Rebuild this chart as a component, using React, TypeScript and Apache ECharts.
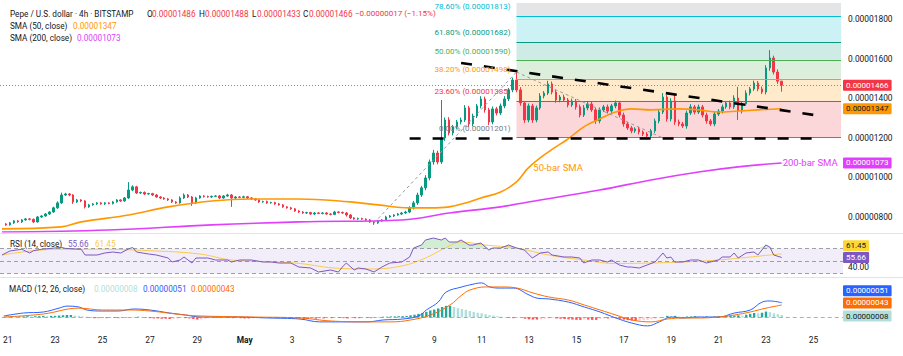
import React, { useEffect, useRef } from "react";
import * as echarts from "echarts";

// ---------------- data (prices in units of 1e-8 USD) ----------------
const SLOT_COUNT = 213; // 4h slots on the time axis
const LEAD = 1; // empty slot before the first candle
const START_UTC = Date.UTC(2025, 3, 20, 20);
const STEP_MS = 4 * 3600 * 1000;

const tickLabels = ["21", "23", "25", "27", "29", "May", "3", "5", "7", "9", "11", "13", "15", "17", "19", "21", "23", "25"];
const TICK_FIRST = 1;
const TICK_STEP = 12;

const priceTicks = [800, 1000, 1200, 1400, 1600, 1800];
const rsiTicks = [40];

const firstOpen = 765;
const lastOpen = 1486;
const closes = [
  760, 770, 780, 775, 785, 790, 788, 775, 800, 805,
  815, 825, 846, 871, 911, 916, 911, 876, 886, 881,
  851, 861, 866, 871, 866, 871, 868, 876, 886, 881,
  896, 936, 952, 921, 924, 916, 918, 911, 901, 896,
  891, 886, 876, 871, 896, 911, 901, 871, 896, 906,
  903, 901, 904, 906, 896, 906, 911, 896, 901, 899,
  902, 896, 891, 886, 876, 878, 871, 873, 866, 861,
  851, 846, 841, 830, 825, 820, 822, 815, 820, 818,
  820, 815, 813, 825, 823, 820, 810, 795, 790, 792,
  789, 785, 775, 770, 780, 785, 800, 805, 810, 815,
  820, 825, 846, 871, 911, 947, 997, 1078, 1123, 1078,
  1199, 1290, 1224, 1255, 1280, 1290, 1351, 1270, 1310, 1361,
  1396, 1341, 1280, 1346, 1325, 1361, 1396, 1442, 1492, 1442,
  1376, 1290, 1361, 1290, 1351, 1411, 1426, 1472, 1431, 1391,
  1406, 1391, 1366, 1386, 1356, 1315, 1351, 1371, 1341, 1285,
  1341, 1356, 1335, 1361, 1376, 1315, 1270, 1250, 1235, 1245,
  1229, 1219, 1209, 1235, 1285, 1330, 1406, 1295, 1386, 1280,
  1270, 1260, 1325, 1356, 1330, 1356, 1315, 1285, 1270, 1320,
  1335, 1356, 1376, 1356, 1401, 1335, 1371, 1426, 1447, 1477,
  1447, 1431, 1553, 1603, 1532, 1486, 1466,
];
const upperWick = [
  4, 5, 4, 5, 4, 5, 4, 4, 5, 4,
  5, 4, 6, 8, 12, 6, 5, 4, 5, 4,
  4, 5, 4, 4, 5, 4, 4, 5, 4, 4,
  5, 40, 8, 5, 4, 5, 4, 4, 5, 4,
  4, 5, 4, 4, 8, 8, 5, 5, 6, 4,
  4, 5, 4, 4, 5, 4, 6, 5, 4, 4,
  5, 4, 4, 5, 4, 4, 5, 4, 4, 5,
  4, 4, 5, 4, 4, 5, 4, 4, 5, 4,
  4, 5, 4, 6, 4, 4, 5, 4, 4, 5,
  4, 4, 5, 4, 5, 4, 6, 5, 4, 5,
  5, 6, 8, 10, 12, 10, 14, 12, 16, 12,
  192, 12, 14, 10, 10, 12, 14, 10, 12, 10,
  14, 12, 10, 12, 10, 12, 14, 10, 12, 45,
  14, 10, 12, 10, 12, 14, 10, 16, 12, 10,
  10, 12, 10, 12, 10, 12, 14, 10, 12, 10,
  12, 10, 12, 10, 12, 10, 12, 10, 10, 8,
  10, 8, 10, 10, 12, 14, 20, 10, 14, 30,
  12, 10, 12, 14, 10, 12, 10, 12, 10, 12,
  10, 12, 10, 12, 14, 56, 12, 14, 10, 12,
  10, 12, 14, 40, 12, 14, 2,
];
const lowerWick = [
  5, 4, 5, 4, 5, 4, 5, 6, 4, 5,
  4, 5, 4, 5, 6, 5, 6, 10, 5, 6,
  8, 5, 4, 5, 4, 5, 4, 5, 4, 5,
  4, 5, 6, 5, 4, 5, 4, 5, 4, 5,
  4, 5, 6, 5, 4, 5, 5, 15, 6, 4,
  5, 4, 5, 4, 5, 4, 4, 45, 5, 4,
  5, 4, 5, 4, 5, 4, 5, 4, 5, 4,
  5, 4, 5, 4, 5, 4, 5, 4, 5, 4,
  5, 4, 5, 4, 5, 4, 8, 5, 4, 5,
  4, 5, 5, 10, 5, 4, 5, 4, 5, 4,
  5, 4, 6, 8, 10, 10, 12, 12, 14, 12,
  10, 14, 12, 12, 10, 12, 10, 14, 12, 10,
  12, 14, 16, 12, 12, 10, 12, 10, 12, 12,
  14, 15, 12, 15, 12, 10, 12, 10, 12, 14,
  12, 10, 12, 10, 14, 12, 10, 12, 10, 15,
  12, 10, 12, 10, 12, 12, 14, 10, 12, 10,
  12, 10, 10, 12, 10, 12, 10, 14, 12, 15,
  12, 10, 14, 10, 12, 10, 12, 14, 10, 12,
  10, 12, 10, 12, 10, 45, 12, 10, 12, 10,
  12, 10, 12, 14, 12, 14, 33,
];

// moving averages: [slot index, price]
const sma50Points = [
  [0, 740], [15, 750], [20, 775], [32, 810], [42, 851], [53, 881], [63, 891], [75, 891], [88, 876],
  [95, 861], [103, 846], [108, 846], [113, 851], [118, 876], [121, 896], [126, 926], [130, 977],
  [133, 1048], [138, 1128], [143, 1194], [147, 1255], [151, 1295], [155, 1330], [159, 1346],
  [164, 1341], [171, 1346], [176, 1341], [181, 1330], [186, 1335], [191, 1341], [197, 1347],
];
const sma200Points = [
  [0, 724], [27, 734], [53, 760], [75, 775], [101, 785], [113, 820], [126, 851], [133, 876],
  [151, 936], [164, 987], [176, 1027], [186, 1053], [197, 1073],
];

// RSI pane: [slot index, value]
const rsiPoints = [
  [0, 59.6], [2, 66], [5, 68.8], [7, 62.8], [8, 66.6], [10, 68.8], [13, 70.6], [15, 71.8], [16, 70.2],
  [18, 69.4], [20, 68.8], [21, 59.6], [24, 59.6], [26, 62.8], [28, 64.4], [30, 62.8], [32, 69.4],
  [33, 71.6], [34, 64.4], [37, 61.2], [39, 59.6], [42, 54.8], [43, 48.4], [45, 51.6], [46, 56.4],
  [48, 46.8], [49, 54.8], [52, 54.8], [54, 51.6], [57, 51.6], [58, 48.4], [60, 51.6], [63, 51.6],
  [66, 48.4], [68, 48.4], [70, 46.8], [73, 46.8], [75, 40.4], [78, 38.8], [80, 32.4], [83, 35.6],
  [85, 32.4], [86, 40.4], [87, 46.8], [89, 35.6], [90, 38.8], [92, 37.2], [94, 32.4], [96, 40.4],
  [98, 46.8], [101, 48.4], [103, 56.4], [104, 70.8], [106, 75.6], [107, 83.6], [109, 86.8],
  [111, 83.6], [112, 86.8], [113, 80.4], [115, 80.4], [116, 83.6], [118, 75.6], [119, 75.6],
  [121, 78.8], [123, 67.6], [124, 70.8], [126, 70.8], [128, 75.6], [130, 70.8], [132, 67.6],
  [134, 54.8], [136, 62.8], [138, 64.4], [139, 59.6], [142, 56.4], [144, 56.4], [146, 54.8],
  [147, 46.8], [149, 51.6], [151, 51.6], [153, 48.4], [154, 51.6], [156, 43.6], [158, 40.4],
  [159, 40.4], [161, 38.8], [163, 43.6], [165, 48.4], [167, 62.8], [168, 54.8], [169, 56.4],
  [170, 48.4], [172, 48.4], [174, 51.6], [176, 51.6], [178, 46.8], [181, 51.6], [182, 56.4],
  [184, 56.4], [185, 62.8], [186, 54.8], [188, 62.8], [190, 64.4], [191, 59.6], [193, 75.6],
  [194, 72.4], [195, 59.6], [197, 55.66],
];
const rsiMaPoints = [
  [0, 59.6], [14, 68.8], [25, 68.8], [37, 66.6], [50, 61.2], [58, 51.6], [74, 46.8], [84, 38.8],
  [93, 37.2], [101, 42], [107, 54.8], [112, 70.8], [116, 80.4], [122, 75.6], [130, 70.8],
  [138, 59.6], [147, 51.6], [155, 46], [164, 46.8], [172, 48.4], [181, 51.6], [189, 56.4], [197, 61.45],
];
const RSI_UPPER = 70;
const RSI_MID = 50;
const RSI_LOWER = 30;

// MACD pane (units of 1e-8)
const macdPoints = [
  [0, 4.5], [5, 15], [10, 18.5], [14, 32], [16, 39], [19, 36], [21, 25.5], [25, 22], [29, 22], [33, 29],
  [37, 25.5], [42, 15], [46, 8], [50, 1], [58, 1], [67, -2.4], [75, -6], [80, -16], [88, -16], [92, -16],
  [96, -9.4], [101, -6], [105, 4.5], [107, 25.5], [110, 53], [112, 88], [116, 106], [118, 113],
  [121, 120], [123, 106], [126, 102], [129, 102], [133, 78], [135, 67], [138, 64], [143, 53],
  [147, 36], [151, 18.5], [155, -2.4], [159, -20], [163, -30], [166, -16], [169, 1], [172, -2.4],
  [176, 1], [181, 1], [185, 15], [189, 25.5], [192, 53], [194, 57], [197, 51],
];
const signalPoints = [
  [0, 1], [10, 11.5], [19, 32], [25, 25.5], [32, 25.5], [37, 22], [46, 8], [50, 4.5], [63, 1],
  [75, -2.4], [83, -13], [93, -16], [98, -16], [103, -9.4], [108, 8], [113, 43], [116, 78],
  [118, 95], [122, 106], [126, 106], [130, 102], [134, 85], [138, 71], [143, 60], [147, 43],
  [151, 25.5], [155, 8], [159, -9.4], [164, -16], [168, -6], [172, -2.4], [176, -2.4], [181, 1],
  [185, 8], [189, 18.5], [193, 32], [197, 43],
];
const histogram = [
  2, 3, 2, 3, 3, 4, 3, 4, 4, 5, 4, 5, 5, 6, 7, 8, 8,
  6, 5, 3, 2,
  -2, -3, -3, -2, -3, -2, -2, -3, -2, -2, -1,
  1, 2, 1,
  -2, -3, -4, -4, -5, -5, -6, -5, -4, -3, -3, -4,
  -6, -8, -7, -5,
  -3, -2, -2, -1, -1, -2, -3, -2,
  -3, -4, -4, -3, -2, -2, -1, -1,
  -2, -2, -3, -3, -2, -2,
  -3, -4, -5, -6, -5, -5, -4, -4,
  -3, -3, -2, -2, -3, -4, -3,
  -3, -3, -2, -2, -3, -2,
  1, 2, 2, 3, 3, 4, 4, 5,
  7, 9, 12, 15, 19, 24, 27, 31, 36,
  40, 40, 36, 32, 29, 26, 22, 19, 16,
  14, 11, 8, 6, 4, 2, 1,
  -2, -3, -2, -1,
  -5, -7, -8, -8, -7,
  -5, -4, -3, -4, -5,
  -6, -7, -8, -9, -9, -8, -8, -9, -9,
  -5, -4, -4, -3, -3, -5,
  -8, -10, -11, -12, -11, -10, -9, -7,
  -5, -3, 1,
  5, 4, 5, 3,
  2, 3, 3, 4, 3, 2, 3, 2, 3, 4, 3, 4,
  5, 6, 7, 6,
  9, 12, 15, 14, 16, 20, 18,
  14, 11, 8,
];

// Fibonacci drawing
const fibPrices = [1201, 1385, 1498, 1590, 1682, 1813];
const fibNames = ["0.00%", "23.60%", "38.20%", "50.00%", "61.80%", "78.60%"];
const fibColors = ["#787B86", "#F23645", "#FF9800", "#4CAF50", "#089981", "#00BCD4"];
const fibZoneColors = [
  "rgba(242,54,69,0.2)", "rgba(255,152,0,0.2)", "rgba(76,175,80,0.2)",
  "rgba(8,153,129,0.2)", "rgba(0,188,212,0.2)", "rgba(120,123,134,0.2)",
];
const FIB_START = 130;
const FIB_END = 212;

// trend lines [slot, price]
const trendDown = [[116, 1578], [207, 1310]];
const supportLine = [[103, 1196], [206, 1196]];
const fibDiagonal = [[94, 770], [130, 1532]];
const retraceDiagonal = [[130, 1532], [167, 1199]];

// last values
const lastClose = 1466;
const sma50Last = 1347;
const sma200Last = 1073;
const rsiLast = 55.66;
const rsiMaLast = 61.45;
const macdLast = 51;
const signalLast = 43;
const histLast = 8;

// ---------------- styling ----------------
const FONT = "Roboto, 'Liberation Sans', sans-serif";
const TXT = "#131722";
const UP = "#089981";
const DOWN = "#F23645";
const MAIN_MIN = 724;
const MAIN_MAX = 1881;
const fmt8 = (v: number) => (v / 1e8).toFixed(8);

function buildOption(): any {
  const categories: string[] = [];
  for (let k = 0; k < SLOT_COUNT; k++) {
    const d = new Date(START_UTC + k * STEP_MS);
    categories.push(`${d.getUTCMonth() + 1}/${d.getUTCDate()} ${d.getUTCHours()}h`);
  }

  const candles = closes.map((c, i) => {
    const o = i === 0 ? firstOpen : i === closes.length - 1 ? lastOpen : closes[i - 1];
    const h = Math.max(o, c) + upperWick[i];
    const l = Math.min(o, c) - lowerWick[i];
    return [i + LEAD, o, c, l, h];
  });

  const histData = histogram.map((v, i) => {
    const prev = i === 0 ? v : histogram[i - 1];
    let color;
    if (v >= 0) color = v >= prev ? "#26A69A" : "#B2DFDB";
    else color = v > prev ? "#FFCDD2" : "#FF5252";
    return { value: [i + LEAD, v], itemStyle: { color } };
  });

  // overbought fill: base at the upper band, stacked excess above it
  const obBase = rsiPoints.map(([k]) => [k, RSI_UPPER]);
  const obExcess = rsiPoints.map(([k, v]) => [k, Math.max(v - RSI_UPPER, 0)]);

  const box = (bg: string, fg: string, text: string, dy = 0) => ({
    show: true,
    position: "right",
    distance: 2,
    offset: [0, dy],
    formatter: text,
    backgroundColor: bg,
    color: fg,
    padding: [2, 3, 1, 3],
    fontSize: 8,
    fontFamily: FONT,
    borderRadius: 1,
  });

  const seg = (pts: number[][], style: any) => [
    { coord: pts[0], lineStyle: style },
    { coord: pts[1], lineStyle: style },
  ];

  const blackDash = { color: "#000000", width: 2.6, type: [11, 12], opacity: 1 };
  const greyDash = { color: "#9598A1", width: 1, type: [3, 3], opacity: 1 };

  const fibZones = fibPrices.map((p, j) => {
    const top = j + 1 < fibPrices.length ? fibPrices[j + 1] : MAIN_MAX;
    return [
      { coord: [FIB_START, p], itemStyle: { color: fibZoneColors[j] } },
      { coord: [FIB_END, top] },
    ];
  });
  const fibLines = fibPrices.map((p, j) => [
    { coord: [FIB_START, p], lineStyle: { color: fibColors[j], width: 1, type: "solid" } },
    { coord: [FIB_END, p], lineStyle: { color: fibColors[j], width: 1, type: "solid" } },
  ]);
  const fibLabels = fibPrices.map((p, j) => ({
    coord: [FIB_START, p],
    symbolSize: 0,
    label: {
      show: true,
      position: "left",
      distance: 6,
      offset: [0, -9.5],
      formatter: `${fibNames[j]} (${fmt8(p)})`,
      color: fibColors[j],
      fontSize: 8,
      lineHeight: 9,
      fontFamily: FONT,
    },
  }));

  const xAxisBase = (gi: number, showLabels: boolean) => ({
    type: "category",
    gridIndex: gi,
    data: categories,
    boundaryGap: true,
    axisLine: { show: false },
    axisTick: { show: false },
    splitLine: { show: false },
    axisLabel: showLabels
      ? {
          show: true,
          interval: (idx: number) => idx >= TICK_FIRST && (idx - TICK_FIRST) % TICK_STEP === 0,
          formatter: (_v: string, idx: number) => {
            const t = tickLabels[(idx - TICK_FIRST) / TICK_STEP];
            if (t === undefined) return "";
            return t === "May" ? "{b|May}" : t;
          },
          rich: { b: { fontWeight: "bold", fontSize: 8.4, color: TXT, fontFamily: FONT } },
          color: TXT,
          fontSize: 8.4,
          fontFamily: FONT,
          margin: 5,
          hideOverlap: false,
        }
      : { show: false },
  });

  const text = (x: number, y: number, t: string, fill: string, size = 8.2) => ({
    type: "text",
    x,
    y,
    silent: true,
    style: { text: t, fill, font: `400 ${size}px ${FONT}`, verticalAlign: "middle", align: "left", lineHeight: size + 1 },
  });

  return {
    animation: false,
    backgroundColor: "#ffffff",
    textStyle: { fontFamily: FONT },
    grid: [
      { left: 0, right: 60, top: 3, height: 229 },
      { left: 0, right: 60, top: 234, height: 42 },
      { left: 0, right: 60, top: 278, height: 53 },
    ],
    xAxis: [xAxisBase(0, false), xAxisBase(1, false), xAxisBase(2, true)],
    yAxis: [
      {
        type: "value",
        gridIndex: 0,
        position: "right",
        min: MAIN_MIN,
        max: MAIN_MAX,
        axisLine: { show: false },
        axisTick: { show: false },
        splitLine: { show: false },
        axisLabel: {
          customValues: priceTicks,
          formatter: (v: number) => fmt8(v),
          color: TXT,
          fontSize: 8.4,
          fontFamily: FONT,
          margin: 5,
        },
      },
      {
        type: "value",
        gridIndex: 1,
        position: "right",
        min: 26,
        max: 93.2,
        axisLine: { show: false },
        axisTick: { show: false },
        splitLine: { show: false },
        axisLabel: {
          customValues: rsiTicks,
          formatter: (v: number) => v.toFixed(2),
          color: TXT,
          fontSize: 8.4,
          fontFamily: FONT,
          margin: 5,
        },
      },
      {
        type: "value",
        gridIndex: 2,
        position: "right",
        min: -47.8,
        max: 137.2,
        axisLine: { show: false },
        axisTick: { show: false },
        splitLine: { show: false },
        axisLabel: { show: false },
      },
    ],
    series: [
      // Fibonacci zones, lines and labels
      {
        type: "line",
        name: "fib",
        xAxisIndex: 0,
        yAxisIndex: 0,
        data: [],
        z: 1,
        silent: true,
        markArea: { silent: true, data: fibZones },
        markLine: { silent: true, symbol: ["none", "none"], label: { show: false }, data: fibLines },
        markPoint: { silent: true, symbol: "circle", symbolSize: 0, data: fibLabels },
      },
      {
        type: "candlestick",
        name: "PEPEUSD",
        xAxisIndex: 0,
        yAxisIndex: 0,
        z: 3,
        data: candles,
        encode: { x: 0, y: [1, 2, 3, 4] },
        barWidth: 2,
        itemStyle: { color: UP, color0: DOWN, borderColor: UP, borderColor0: DOWN, borderWidth: 1 },
        markLine: {
          silent: true,
          symbol: ["none", "none"],
          label: { show: false },
          data: [
            { yAxis: lastClose, lineStyle: { color: DOWN, width: 1, type: [1, 2], opacity: 0.8 } },
            seg(trendDown, blackDash),
            seg(supportLine, blackDash),
            seg(fibDiagonal, greyDash),
            seg(retraceDiagonal, greyDash),
          ],
        },
        markPoint: {
          silent: true,
          symbol: "circle",
          symbolSize: 0,
          data: [
            { coord: [FIB_END, lastClose], label: box(DOWN, "#ffffff", fmt8(lastClose)) },
            { coord: [FIB_END, sma50Last], label: box("#FF9800", "#131722", fmt8(sma50Last)) },
            { coord: [FIB_END, sma200Last], label: box("#E040FB", "#ffffff", fmt8(sma200Last)) },
          ],
        },
      },
      {
        type: "line",
        name: "SMA 50",
        xAxisIndex: 0,
        yAxisIndex: 0,
        z: 4,
        data: sma50Points,
        smooth: 0.4,
        showSymbol: false,
        symbol: "none",
        lineStyle: { color: "#FF9800", width: 1.6 },
        markPoint: {
          silent: true,
          symbol: "circle",
          symbolSize: 0,
          data: [
            {
              coord: [134, 1048],
              label: { show: true, position: "right", distance: 1, formatter: "50-bar SMA", color: "#FF9800", fontSize: 9.5, fontFamily: FONT },
            },
          ],
        },
      },
      {
        type: "line",
        name: "SMA 200",
        xAxisIndex: 0,
        yAxisIndex: 0,
        z: 4,
        data: sma200Points,
        smooth: 0.4,
        showSymbol: false,
        symbol: "none",
        lineStyle: { color: "#E040FB", width: 1.6 },
        markPoint: {
          silent: true,
          symbol: "circle",
          symbolSize: 0,
          data: [
            {
              coord: [197, sma200Last],
              label: { show: true, position: "right", distance: 1, formatter: "200-bar SMA", color: "#E040FB", fontSize: 9.5, fontFamily: FONT },
            },
          ],
        },
      },
      // RSI overbought fill
      {
        type: "line",
        name: "obBase",
        xAxisIndex: 1,
        yAxisIndex: 1,
        stack: "ob",
        z: 1,
        silent: true,
        data: obBase,
        showSymbol: false,
        symbol: "none",
        lineStyle: { opacity: 0 },
      },
      {
        type: "line",
        name: "obFill",
        xAxisIndex: 1,
        yAxisIndex: 1,
        stack: "ob",
        z: 1,
        silent: true,
        data: obExcess,
        showSymbol: false,
        symbol: "none",
        lineStyle: { opacity: 0 },
        areaStyle: { color: "rgba(76,175,80,0.35)" },
      },
      // RSI
      {
        type: "line",
        name: "RSI",
        xAxisIndex: 1,
        yAxisIndex: 1,
        z: 3,
        data: rsiPoints,
        showSymbol: false,
        symbol: "none",
        lineStyle: { color: "#7E57C2", width: 1 },
        markArea: {
          silent: true,
          itemStyle: { color: "rgba(126,87,194,0.1)" },
          data: [[{ yAxis: RSI_LOWER }, { yAxis: RSI_UPPER }]],
        },
        markLine: {
          silent: true,
          symbol: ["none", "none"],
          label: { show: false },
          lineStyle: { color: "#787B86", width: 1, type: [4, 3], opacity: 0.7 },
          data: [{ yAxis: RSI_UPPER }, { yAxis: RSI_MID }, { yAxis: RSI_LOWER }],
        },
        markPoint: {
          silent: true,
          symbol: "circle",
          symbolSize: 0,
          data: [
            { coord: [FIB_END, rsiMaLast], label: box("#FDD835", "#131722", rsiMaLast.toFixed(2), -8) },
            { coord: [FIB_END, rsiLast], label: box("#7E57C2", "#ffffff", rsiLast.toFixed(2), 0) },
          ],
        },
      },
      {
        type: "line",
        name: "RSI MA",
        xAxisIndex: 1,
        yAxisIndex: 1,
        z: 2,
        data: rsiMaPoints,
        smooth: 0.4,
        showSymbol: false,
        symbol: "none",
        lineStyle: { color: "#F9CB4C", width: 1 },
      },
      // MACD
      {
        type: "bar",
        name: "Histogram",
        xAxisIndex: 2,
        yAxisIndex: 2,
        z: 2,
        data: histData,
        barWidth: 2.4,
        markLine: {
          silent: true,
          symbol: ["none", "none"],
          label: { show: false },
          lineStyle: { color: "#787B86", width: 1, type: [4, 3], opacity: 0.6 },
          data: [{ yAxis: 0 }],
        },
        markPoint: {
          silent: true,
          symbol: "circle",
          symbolSize: 0,
          data: [{ coord: [FIB_END, histLast], label: box("#B2DFDB", "#131722", fmt8(histLast), 1) }],
        },
      },
      {
        type: "line",
        name: "MACD",
        xAxisIndex: 2,
        yAxisIndex: 2,
        z: 3,
        data: macdPoints,
        smooth: 0.4,
        showSymbol: false,
        symbol: "none",
        lineStyle: { color: "#2962FF", width: 1 },
        markPoint: {
          silent: true,
          symbol: "circle",
          symbolSize: 0,
          data: [{ coord: [FIB_END, macdLast], label: box("#2962FF", "#ffffff", fmt8(macdLast), -12) }],
        },
      },
      {
        type: "line",
        name: "Signal",
        xAxisIndex: 2,
        yAxisIndex: 2,
        z: 3,
        data: signalPoints,
        smooth: 0.4,
        showSymbol: false,
        symbol: "none",
        lineStyle: { color: "#FF6D00", width: 1 },
        markPoint: {
          silent: true,
          symbol: "circle",
          symbolSize: 0,
          data: [{ coord: [FIB_END, signalLast], label: box("#FF6D00", "#ffffff", fmt8(signalLast), -2) }],
        },
      },
    ],
    graphic: [
      { type: "line", silent: true, shape: { x1: 0, y1: 233.5, x2: 903, y2: 233.5 }, style: { stroke: "#E0E3EB", lineWidth: 1 } },
      { type: "line", silent: true, shape: { x1: 0, y1: 277.5, x2: 903, y2: 277.5 }, style: { stroke: "#E0E3EB", lineWidth: 1 } },
      text(10, 13.5, "Pepe / U.S. dollar · 4h · BITSTAMP", TXT),
      text(147, 13.5, "O", TXT),
      text(152, 13.5, "0.00001486", DOWN),
      text(199, 13.5, "H", TXT),
      text(205, 13.5, "0.00001488", DOWN),
      text(252, 13.5, "L", TXT),
      text(257, 13.5, "0.00001433", DOWN),
      text(303, 13.5, "C", TXT),
      text(309, 13.5, "0.00001466", DOWN),
      text(355, 13.5, "−0.00000017 (−1.15%)", DOWN, 8),
      text(10, 25.5, "SMA (50, close)", TXT),
      text(73, 25.5, "0.00001347", "#FF9800"),
      text(10, 37.5, "SMA (200, close)", TXT),
      text(77, 37.5, "0.00001073", "#E040FB"),
      text(10, 244, "RSI (14, close)", TXT),
      text(68, 244, "55.66", "#7E57C2"),
      text(95, 244, "61.45", "#F9CB4C"),
      text(9, 289, "MACD (12, 26, close)", TXT),
      text(94, 289, "0.00000008", "#B2DFDB"),
      text(143, 289, "0.00000051", "#2962FF"),
      text(191, 289, "0.00000043", "#FF6D00"),
    ],
  };
}

export default function App() {
  const ref = useRef<HTMLDivElement>(null);
  useEffect(() => {
    if (!ref.current) return;
    const chart = echarts.init(ref.current, undefined, { renderer: "svg" });
    chart.setOption(buildOption());
    return () => chart.dispose();
  }, []);
  return (
    <div
      ref={ref}
      style={{ position: "fixed", left: 0, top: 0, width: 903, height: 356, background: "#ffffff" }}
    />
  );
}
